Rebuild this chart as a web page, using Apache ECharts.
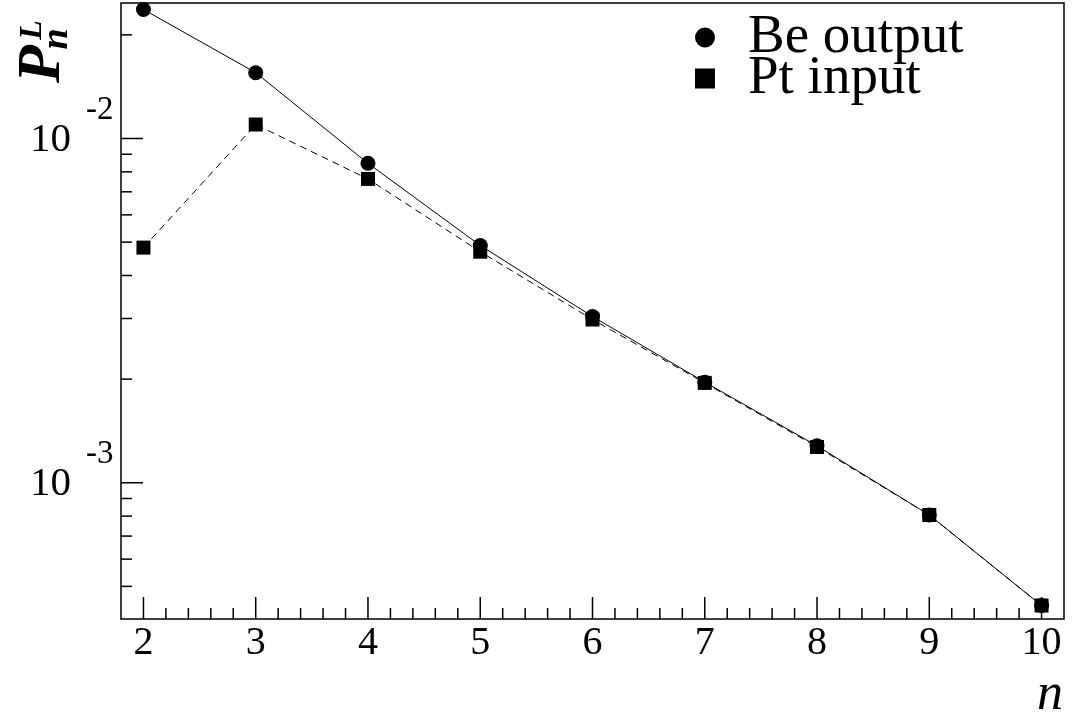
<!DOCTYPE html>
<html>
<head>
<meta charset="utf-8">
<script src="https://cdn.jsdelivr.net/npm/echarts@6/dist/echarts.min.js"></script>
<style>
  html, body { margin: 0; padding: 0; background: #fff; }
  #chart { width: 1074px; height: 722px; }
</style>
</head>
<body>
<div id="chart"></div>
<script>
// Multiplicity n and probabilities P_n^L
const nValues = [2, 3, 4, 5, 6, 7, 8, 9, 10];
const beOutput = [0.0237, 0.01553, 0.00847, 0.00489, 0.00304, 0.00196, 0.00128, 0.000806, 0.00044];
const ptInput = [0.00482, 0.01098, 0.00763, 0.00469, 0.00298, 0.00195, 0.00127, 0.000806, 0.00044];

// Axis ticks and labels
const xMajorTicks = [2, 3, 4, 5, 6, 7, 8, 9, 10];
const xTickLabels = ['2', '3', '4', '5', '6', '7', '8', '9', '10'];
const yMajorTicks = [1e-3, 1e-2];
const yTickExponents = ['-3', '-2'];
const yMinorTicks = [5e-4, 6e-4, 7e-4, 8e-4, 9e-4, 2e-3, 3e-3, 4e-3, 5e-3, 6e-3, 7e-3, 8e-3, 9e-3, 2e-2];

const X_MIN = 1.8, X_MAX = 10.2;
const Y_MIN = 4.02e-4, Y_MAX = 2.475e-2;

const FONT = '"Liberation Serif", "Times New Roman", serif';

// x ticks: majors at integers, minors every 0.2
const xTicks = [];
xMajorTicks.forEach((v, i) => {
  xTicks.push({ v: v, major: true, label: xTickLabels[i] });
  if (i < xMajorTicks.length - 1) {
    for (let k = 1; k <= 4; k++) xTicks.push({ v: +(v + 0.2 * k).toFixed(1), major: false });
  }
});
const yTicks = [];
yMajorTicks.forEach((v, i) => yTicks.push({ v: v, major: true, exp: yTickExponents[i] }));
yMinorTicks.forEach(v => yTicks.push({ v: v, major: false }));

const chart = echarts.init(document.getElementById('chart'), null, { renderer: 'canvas' });

function renderXTick(params, api) {
  const t = xTicks[params.dataIndex];
  const p = api.coord([t.v, Y_MIN]);
  const len = t.major ? 22 : 11;
  const children = [{
    type: 'line',
    shape: { x1: p[0], y1: p[1], x2: p[0], y2: p[1] - len },
    style: { stroke: '#000', lineWidth: 1.5 }
  }];
  if (t.label) {
    children.push({
      type: 'text', x: p[0], y: p[1] + 24.5,
      style: { text: t.label, font: '40px ' + FONT, fill: '#000', align: 'center', verticalAlign: 'middle' }
    });
  }
  return { type: 'group', children: children };
}

function renderYTick(params, api) {
  const t = yTicks[params.dataIndex];
  const p = api.coord([X_MIN, t.v]);
  const len = t.major ? 22 : 11;
  const children = [{
    type: 'line',
    shape: { x1: p[0], y1: p[1], x2: p[0] + len, y2: p[1] },
    style: { stroke: '#000', lineWidth: 1.5 }
  }];
  if (t.exp) {
    children.push({
      type: 'text', x: p[0] - 50, y: p[1] + 1.5,
      style: { text: '10', font: '41px ' + FONT, fill: '#000', align: 'right', verticalAlign: 'middle' }
    });
    children.push({
      type: 'text', x: p[0] - 35, y: p[1] - 28.5,
      style: { text: t.exp, font: '33px ' + FONT, fill: '#000', align: 'left', verticalAlign: 'middle' }
    });
  }
  return { type: 'group', children: children };
}

const option = {
  animation: false,
  backgroundColor: '#fff',
  grid: {
    left: 121, top: 3, width: 943, height: 616,
    show: true, borderColor: '#000', borderWidth: 1.5, backgroundColor: 'transparent'
  },
  xAxis: {
    type: 'value', min: X_MIN, max: X_MAX,
    axisLine: { show: false }, axisTick: { show: false },
    axisLabel: { show: false }, splitLine: { show: false }
  },
  yAxis: {
    type: 'log', logBase: 10, min: Y_MIN, max: Y_MAX,
    axisLine: { show: false }, axisTick: { show: false },
    axisLabel: { show: false }, splitLine: { show: false }
  },
  legend: {
    orient: 'vertical', left: 695, top: 10, padding: 0, itemGap: -14,
    itemWidth: 20, itemHeight: 20, selectedMode: false,
    data: [{ name: 'Be output', icon: 'circle' }, { name: 'Pt input', icon: 'rect' }],
    itemStyle: { color: '#000', borderWidth: 0 },
    lineStyle: { width: 0 },
    textStyle: { fontFamily: FONT, fontSize: 55, color: '#000', padding: [0, 0, 0, 28] }
  },
  graphic: [
    { type: 'text', x: 43, y: 64, rotation: Math.PI / 2,
      style: { text: 'P', font: 'italic bold 62px ' + FONT, fill: '#000', align: 'center', verticalAlign: 'middle' } },
    { type: 'text', x: 57, y: 39, rotation: Math.PI / 2,
      style: { text: 'n', font: 'italic bold 38px ' + FONT, fill: '#000', align: 'center', verticalAlign: 'middle' } },
    { type: 'text', x: 33, y: 30, rotation: Math.PI / 2,
      style: { text: 'L', font: 'italic bold 32px ' + FONT, fill: '#000', align: 'center', verticalAlign: 'middle' } },
    { type: 'text', x: 1050, y: 695.5,
      style: { text: 'n', font: 'italic 52px ' + FONT, fill: '#000', align: 'center', verticalAlign: 'middle' } }
  ],
  series: [
    {
      name: 'Be output', type: 'line',
      data: nValues.map((n, i) => [n, beOutput[i]]),
      symbol: 'circle', symbolSize: 15,
      lineStyle: { color: '#000', width: 1 },
      itemStyle: { color: '#000' },
      z: 3
    },
    {
      name: 'Pt input', type: 'line',
      data: nValues.map((n, i) => [n, ptInput[i]]),
      symbol: 'rect', symbolSize: 14,
      lineStyle: { color: '#000', width: 1, type: [7, 5] },
      itemStyle: { color: '#000' },
      z: 3
    },
    {
      type: 'custom', name: 'xTicks', silent: true, clip: false, z: 4,
      data: xTicks.map(t => [t.v, Y_MIN]),
      renderItem: renderXTick
    },
    {
      type: 'custom', name: 'yTicks', silent: true, clip: false, z: 4,
      data: yTicks.map(t => [X_MIN, t.v]),
      renderItem: renderYTick
    }
  ]
};

chart.setOption(option);
</script>
</body>
</html>
